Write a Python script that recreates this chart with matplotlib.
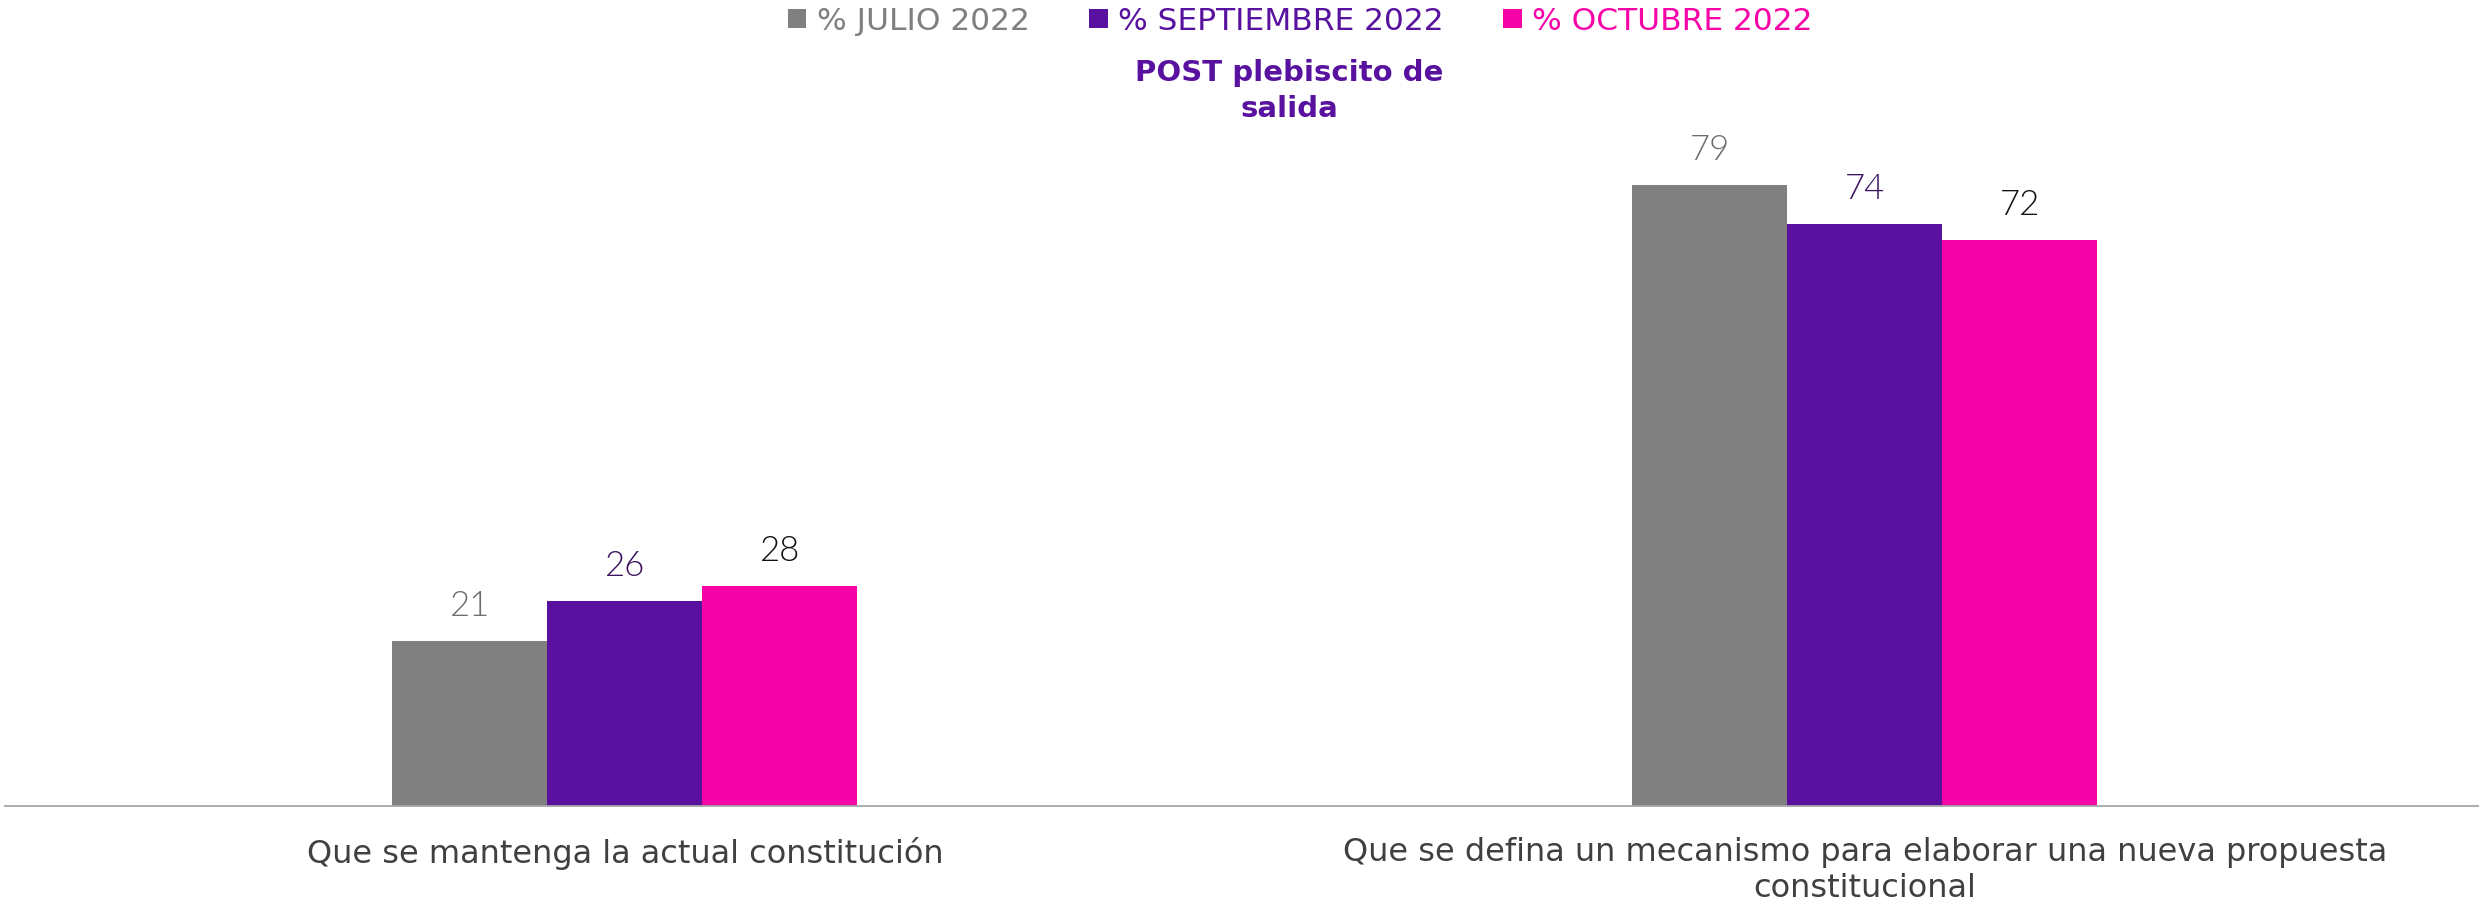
import matplotlib
matplotlib.use("Agg")
import matplotlib.pyplot as plt
from matplotlib.patches import Patch
import numpy as np

# data
categories = [
    "Que se mantenga la actual constitución",
    "Que se defina un mecanismo para elaborar una nueva propuesta\nconstitucional",
]
series_names = ["% JULIO 2022", "% SEPTIEMBRE 2022", "% OCTUBRE 2022"]
julio = [21, 79]
septiembre = [26, 74]
octubre = [28, 72]

bar_colors = ["#808080", "#59119F", "#F704A9"]
value_colors = ["#6E6E6E", "#3C1361", "#111111"]
legend_colors = ["#7F7F7F", "#59119F", "#F704A9"]
note_text = "POST plebiscito de\nsalida"

W, H = 2479, 904
fig = plt.figure(figsize=(W / 100, H / 100), dpi=100)
ax = fig.add_axes([5 / W, (H - 806.7) / H, (W - 5) / W, 707.4 / H])

x = np.arange(len(categories))
width = 0.125
offsets = [-width, 0, width]
handles = []
for vals, off, col, vcol, name in zip([julio, septiembre, octubre], offsets,
                                      bar_colors, value_colors, series_names):
    bars = ax.bar(x + off, vals, width=width, color=col, zorder=2)
    for b, v in zip(bars, vals):
        ax.annotate(f"{v}", (b.get_x() + b.get_width() / 2, b.get_height()),
                    xytext=(0, 18.7), textcoords="offset points",
                    ha="center", va="baseline", fontsize=25,
                    family="Lato", fontweight=300, color=vcol)
    handles.append(Patch(facecolor=col, label=name))

ax.set_xlim(-0.5, 1.4955)
ax.set_ylim(0, 90)
for side in ["top", "right", "left"]:
    ax.spines[side].set_visible(False)
ax.spines["bottom"].set_color("#A6A6A6")
ax.spines["bottom"].set_linewidth(1.3)
ax.set_yticks([])
ax.set_xticks(x)
ax.set_xticklabels(categories, fontsize=23, color="#404040", linespacing=1.2)
ax.tick_params(axis="x", length=0, pad=22)

leg = fig.legend(handles=handles, loc="center", ncol=3,
                 bbox_to_anchor=(1300 / W, 1 - 22 / H), frameon=False,
                 fontsize=22.5, handlelength=0.6, handleheight=0.6,
                 handletextpad=0.33, columnspacing=1.9, borderpad=0)
for txt, c in zip(leg.get_texts(), legend_colors):
    txt.set_color(c)

fig.text(1289 / W, 1 - 117 / H, note_text, ha="center", va="baseline",
         fontsize=21, fontweight="semibold", color="#59119F",
         linespacing=1.35, multialignment="center")

fig.savefig("out.png", dpi=100)
